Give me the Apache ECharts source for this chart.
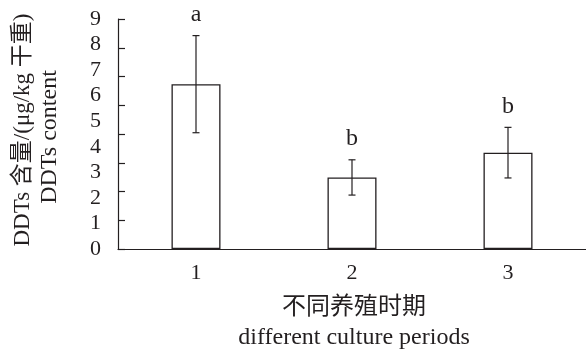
<!DOCTYPE html>
<html>
<head>
<meta charset="utf-8">
<script src="https://cdn.jsdelivr.net/npm/echarts@6/dist/echarts.min.js"></script>
<style>
  html, body { margin: 0; padding: 0; background: #fff; }
  #chart { width: 586px; height: 351px; }
</style>
</head>
<body>
<div id="chart"></div>
<script>
// DDTs content in different culture periods
const periods = ['1', '2', '3'];
const meanValues = [6.45, 2.80, 3.77];
const errorValues = [1.90, 0.69, 0.99];
const groupLetters = ['a', 'b', 'b'];
const yTickLabels = [0, 1, 2, 3, 4, 5, 6, 7, 8, 9];

const ink = '#231f20';
const serif = '"Liberation Serif", "Times New Roman", "Noto Sans CJK SC", serif';

const chart = echarts.init(document.getElementById('chart'), null, { renderer: 'canvas' });

const errorData = meanValues.map((m, i) => [i, m, errorValues[i]]);

chart.setOption({
  animation: false,
  backgroundColor: '#fff',
  grid: { left: 118, top: 19, width: 470, height: 230 },
  xAxis: {
    type: 'category',
    data: periods,
    axisLine: { lineStyle: { color: ink, width: 1.2 } },
    axisTick: { show: false },
    axisLabel: { color: ink, fontFamily: serif, fontSize: 22, margin: 13 }
  },
  yAxis: [
    {
      type: 'value',
      min: 0,
      max: 9,
      interval: 1,
      axisLine: { show: true, lineStyle: { color: ink, width: 1.2 } },
      axisTick: { show: false },
      splitLine: { show: false },
      axisLabel: {
        color: ink, fontFamily: serif, fontSize: 22, margin: 17,
        formatter: v => (yTickLabels.indexOf(v) >= 0 ? String(v) : '')
      }
    },
    {
      // tick marks along the left axis line
      type: 'value',
      position: 'left',
      min: 0,
      max: 8,
      interval: 1,
      axisLine: { show: false },
      axisTick: { show: true, inside: true, length: 7, lineStyle: { color: ink, width: 1.2 } },
      axisLabel: { show: false },
      splitLine: { show: false }
    }
  ],
  series: [
    {
      type: 'bar',
      data: meanValues,
      barWidth: 49,
      itemStyle: { color: '#fff', borderColor: ink, borderWidth: 1.3 }
    },
    {
      type: 'custom',
      data: errorData,
      z: 5,
      renderItem: function (params, api) {
        const i = api.value(0);
        const m = api.value(1);
        const e = api.value(2);
        const top = api.coord([i, m + e]);
        const bot = api.coord([i, m - e]);
        const cap = 3.5;
        const style = { stroke: ink, lineWidth: 1.2 };
        return {
          type: 'group',
          children: [
            { type: 'line', shape: { x1: top[0], y1: top[1], x2: bot[0], y2: bot[1] }, style },
            { type: 'line', shape: { x1: top[0] - cap, y1: top[1], x2: top[0] + cap, y2: top[1] }, style },
            { type: 'line', shape: { x1: bot[0] - cap, y1: bot[1], x2: bot[0] + cap, y2: bot[1] }, style },
            {
              type: 'text',
              x: top[0], y: top[1] - 9,
              style: {
                text: groupLetters[params.dataIndex],
                fill: ink, font: '24px ' + serif,
                textAlign: 'center', textVerticalAlign: 'bottom'
              }
            }
          ]
        };
      }
    }
  ],
  graphic: [
    {
      type: 'text', x: 23, y: 130, rotation: Math.PI / 2,
      style: { text: 'DDTs 含量/(μg/kg 干重)', fill: ink, font: '23px ' + serif, textAlign: 'center', textVerticalAlign: 'middle' }
    },
    {
      type: 'text', x: 50, y: 137, rotation: Math.PI / 2,
      style: { text: 'DDTs content', fill: ink, font: '24px ' + serif, textAlign: 'center', textVerticalAlign: 'middle' }
    },
    {
      type: 'text', x: 354, y: 308,
      style: { text: '不同养殖时期', fill: ink, font: '24px ' + serif, textAlign: 'center', textVerticalAlign: 'middle' }
    },
    {
      type: 'text', x: 354, y: 338,
      style: { text: 'different culture periods', fill: ink, font: '24px ' + serif, textAlign: 'center', textVerticalAlign: 'middle' }
    }
  ]
});
</script>
</body>
</html>
